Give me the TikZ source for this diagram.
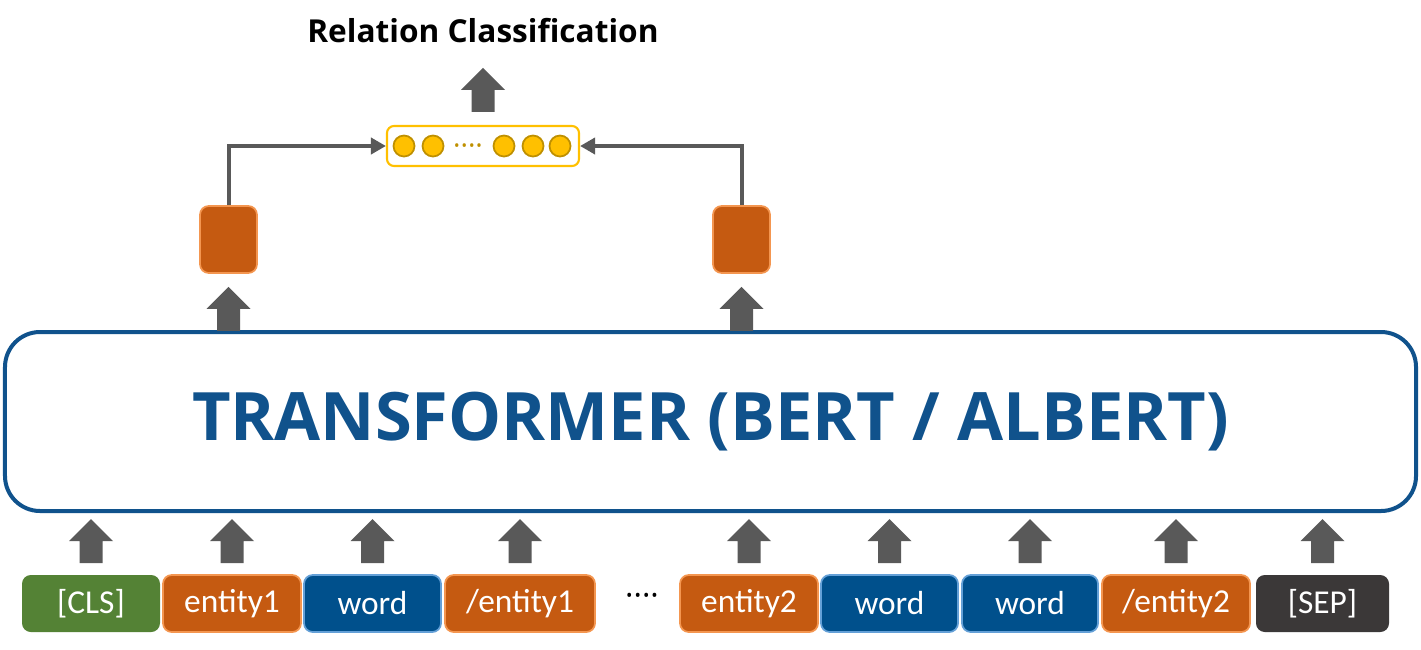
\documentclass[tikz,border=0pt]{standalone}
\usepackage{fontspec}
\setmainfont{Open Sans}
\newfontfamily\tokfont{Carlito}
\usetikzlibrary{arrows.meta,positioning}
\definecolor{tfblue}{RGB}{16,82,140}
\definecolor{tokblue}{RGB}{0,80,140}
\definecolor{tokblueb}{RGB}{100,160,215}
\definecolor{tokorange}{RGB}{197,90,17}
\definecolor{tokorangeb}{RGB}{244,150,80}
\definecolor{tokgreen}{RGB}{84,130,53}
\definecolor{tokgray}{RGB}{59,56,56}
\definecolor{arrgray}{RGB}{89,89,89}
\definecolor{gold}{RGB}{255,192,0}
\definecolor{golddark}{RGB}{191,144,0}
\tikzset{
  tok/.style={rounded corners=2.5pt, fill=#1, text=white, font=\tokfont\fontsize{9.5}{11}\selectfont,
              minimum height=0.57cm, inner sep=0pt, line width=0.5pt},
  hid/.style={draw=tokorangeb, fill=tokorange, rounded corners=2.5pt, line width=0.5pt,
              minimum width=0.57cm, minimum height=0.67cm, inner sep=0pt},
  tfbox/.style={draw=tfblue, line width=0.04cm, rounded corners=0.35cm, fill=white,
                minimum width=14.11cm, minimum height=1.79cm, text=tfblue,
                font=\bfseries\fontsize{19}{23}\selectfont},
  vecbox/.style={draw=gold, fill=white, line width=0.6pt, rounded corners=2pt,
                 minimum width=1.92cm, minimum height=0.40cm, inner sep=0pt},
  dot/.style={circle, draw=golddark, fill=gold, line width=0.5pt, minimum size=0.21cm, inner sep=0pt},
  conn/.style={draw=arrgray, line width=0.04cm, -{Triangle[length=0.15cm,width=0.16cm]}},
  uparr/.pic={\fill[arrgray] (0,0) -- (0.22,-0.22) -- (0.115,-0.22) -- (0.115,-0.44)
              -- (-0.115,-0.44) -- (-0.115,-0.22) -- (-0.22,-0.22) -- cycle;},
}
\begin{document}
\begin{tikzpicture}
\useasboundingbox (0,0) rectangle (14.21,-6.49);

% --- input tokens ---
\node[tok=tokgreen, minimum width=1.38cm] (cls) at (0.91,-6.035) {[CLS]};
\node[tok=tokorange, draw=tokorangeb, minimum width=1.38cm] (ent1) at (2.32,-6.035) {entity1};
\node[tok=tokblue, draw=tokblueb, minimum width=1.37cm] (w1) at (3.725,-6.035) {word};
\node[tok=tokorange, draw=tokorangeb, minimum width=1.50cm] (eent1) at (5.20,-6.035) {/entity1};
\node[font=\fontsize{9}{11}\selectfont] (gap) at (6.42,-6.00) {····};
\node[tok=tokorange, draw=tokorangeb, minimum width=1.38cm] (ent2) at (7.49,-6.035) {entity2};
\node[tok=tokblue, draw=tokblueb, minimum width=1.37cm] (w2) at (8.895,-6.035) {word};
\node[tok=tokblue, draw=tokblueb, minimum width=1.36cm] (w3) at (10.30,-6.035) {word};
\node[tok=tokorange, draw=tokorangeb, minimum width=1.48cm] (eent2) at (11.76,-6.035) {/entity2};
\node[tok=tokgray, minimum width=1.33cm] (sep) at (13.225,-6.035) {[SEP]};

% arrows into the encoder
\foreach \t in {cls,ent1,w1,eent1,ent2,w2,w3,eent2,sep}
  \pic at ([yshift=0.55cm]\t.north) {uparr};

% --- encoder ---
\node[tfbox] (tf) at (7.105,-4.215) {TRANSFORMER (BERT / ALBERT)};

% entity hidden states
\node[hid] (hl) at (2.285,-2.395) {};
\node[hid] (hr) at (7.415,-2.395) {};
\pic at ([yshift=-0.13cm]hl.south) {uparr};
\pic at ([yshift=-0.13cm]hr.south) {uparr};

% concatenated vector
\node[vecbox] (vec) at (4.83,-1.46) {};
\foreach \cx [count=\i] in {4.04,4.33,5.04,5.33,5.60}
  \node[dot] (c\i) at (\cx,-1.46) {};
\node[text=golddark, font=\fontsize{8}{10}\selectfont] (vdots) at (4.68,-1.50) {····};
\draw[conn] (hl.north) |- (vec.west);
\draw[conn] (hr.north) |- (vec.east);

% classifier output
\pic at ([yshift=0.57cm]vec.north) {uparr};
\node[font=\bfseries\fontsize{9}{11}\selectfont] (rc) at (4.83,-0.31) {Relation Classification};
\end{tikzpicture}
\end{document}
